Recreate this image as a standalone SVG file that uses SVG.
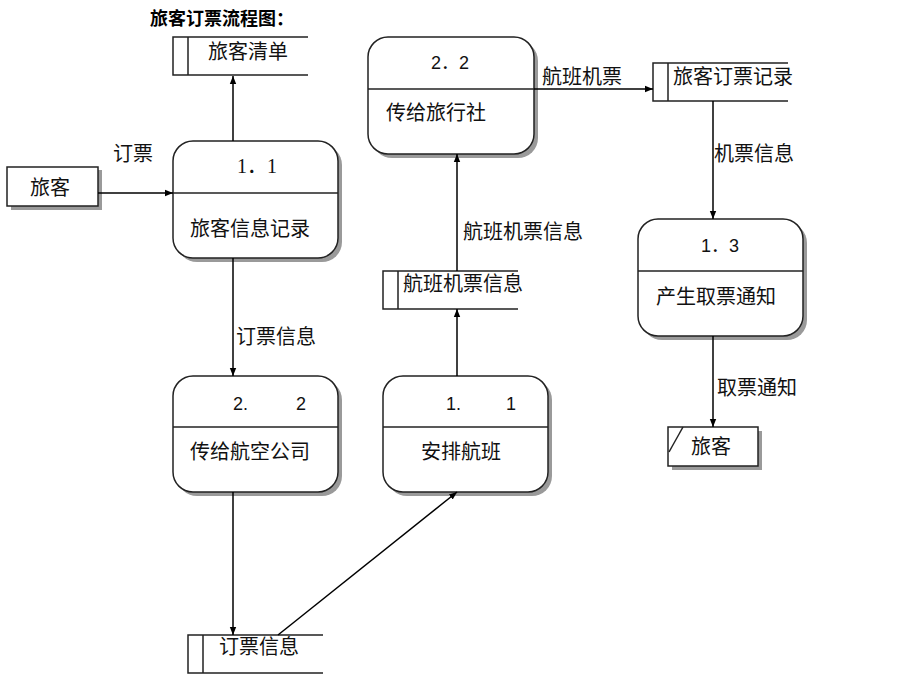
<svg xmlns="http://www.w3.org/2000/svg" width="912" height="695" viewBox="0 0 912 695">
<defs>
<marker id="arr" viewBox="0 0 10 10" refX="10" refY="5" markerWidth="8" markerHeight="8" markerUnits="userSpaceOnUse" orient="auto">
<path d="M0,1 L10,5 L0,9 Z" fill="#000"/>
</marker>
</defs>
<style>
text{font-family:"Noto Sans CJK SC","Liberation Sans",sans-serif;font-size:20px;fill:#111;text-anchor:middle}
.num{font-family:"Liberation Sans","Noto Sans CJK SC",sans-serif;font-size:18px}
.ser{font-family:"Liberation Serif","Noto Sans CJK SC",serif;font-size:20px}
.st{text-anchor:start}
.title{font-size:18px;font-weight:bold;text-anchor:start;fill:#000}
.box{fill:#fff;stroke:#222;stroke-width:1.5}
.sh{fill:#9a9a9a}
.ln{fill:none;stroke:#222;stroke-width:1.5}
.c{fill:none;stroke:#000;stroke-width:1.5;marker-end:url(#arr)}
</style>
<rect width="912" height="695" fill="#fff"/>
<text class="title" x="150" y="25">旅客订票流程图：</text>

<g id="store-lvkeqingdan">
<path class="ln" d="M308,37 H173 V75 H308 M188,37 V75"/>
<text x="248" y="59">旅客清单</text>
</g>

<g id="entity-lvke-left">
<rect class="sh" x="11" y="170" width="91" height="40"/>
<rect class="box" x="7" y="167" width="91" height="39"/>
<text x="50" y="195">旅客</text>
</g>

<g id="p11-top">
<rect class="sh" x="177" y="145" width="165" height="117" rx="20"/>
<rect class="box" x="173" y="141" width="165" height="117" rx="20"/>
<line class="ln" x1="173" y1="193" x2="338" y2="193"/>
<text class="ser" x="257" y="173">1．1</text>
<text x="250" y="236">旅客信息记录</text>
</g>

<g id="p22-top">
<rect class="sh" x="372" y="41" width="166" height="117" rx="20"/>
<rect class="box" x="368" y="37" width="166" height="117" rx="20"/>
<line class="ln" x1="368" y1="89" x2="534" y2="89"/>
<text class="num" x="450" y="69">2．2</text>
<text x="436" y="120">传给旅行社</text>
</g>

<g id="store-lvkedingpiaojilu">
<path class="ln" d="M788,63 H653 V101 H788 M668,63 V101"/>
<text x="733" y="84">旅客订票记录</text>
</g>

<g id="p13">
<rect class="sh" x="642" y="223" width="165" height="117" rx="20"/>
<rect class="box" x="638" y="219" width="165" height="117" rx="20"/>
<line class="ln" x1="638" y1="271" x2="803" y2="271"/>
<text class="num" x="720" y="252">1．3</text>
<text x="716" y="304">产生取票通知</text>
</g>

<g id="entity-lvke-right">
<rect class="sh" x="672" y="431" width="90" height="39"/>
<rect class="box" x="668" y="427" width="90" height="39"/>
<line class="ln" x1="683" y1="427" x2="669" y2="452"/>
<text x="711" y="454">旅客</text>
</g>

<g id="store-hangbanjipiaoxinxi">
<path class="ln" d="M518,271 H383 V309 H518 M398,271 V309"/>
<text x="463" y="291">航班机票信息</text>
</g>

<g id="p22-bottom">
<rect class="sh" x="177" y="380" width="165" height="116" rx="20"/>
<rect class="box" x="173" y="376" width="165" height="116" rx="20"/>
<line class="ln" x1="173" y1="427" x2="338" y2="427"/>
<text class="num st" x="233" y="410">2.</text>
<text class="num st" x="296" y="410">2</text>
<text x="250" y="459">传给航空公司</text>
</g>

<g id="p11-bottom">
<rect class="sh" x="387" y="380" width="165" height="116" rx="20"/>
<rect class="box" x="383" y="376" width="165" height="116" rx="20"/>
<line class="ln" x1="383" y1="427" x2="548" y2="427"/>
<text class="num st" x="446" y="410">1.</text>
<text class="num st" x="506" y="410">1</text>
<text x="461" y="459">安排航班</text>
</g>

<g id="store-dingpiaoxinxi">
<path class="ln" d="M323,635 H188 V673 H323 M203,635 V673"/>
<text x="259" y="654">订票信息</text>
</g>

<g id="connectors">
<line class="c" x1="98" y1="193" x2="173" y2="193"/>
<line class="c" x1="233" y1="141" x2="233" y2="76"/>
<line class="c" x1="233" y1="258" x2="233" y2="376"/>
<line class="c" x1="233" y1="492" x2="233" y2="635"/>
<line class="c" x1="278" y1="635" x2="457" y2="492"/>
<line class="c" x1="457" y1="376" x2="457" y2="309"/>
<line class="c" x1="457" y1="271" x2="457" y2="154"/>
<line class="c" x1="534" y1="89" x2="653" y2="89"/>
<line class="c" x1="713" y1="101" x2="713" y2="219"/>
<line class="c" x1="713" y1="336" x2="713" y2="427"/>
<text x="133" y="161">订票</text>
<text x="276" y="344">订票信息</text>
<text x="523" y="239">航班机票信息</text>
<text x="582" y="84">航班机票</text>
<text x="754" y="161">机票信息</text>
<text x="757" y="395">取票通知</text>
</g>
</svg>
